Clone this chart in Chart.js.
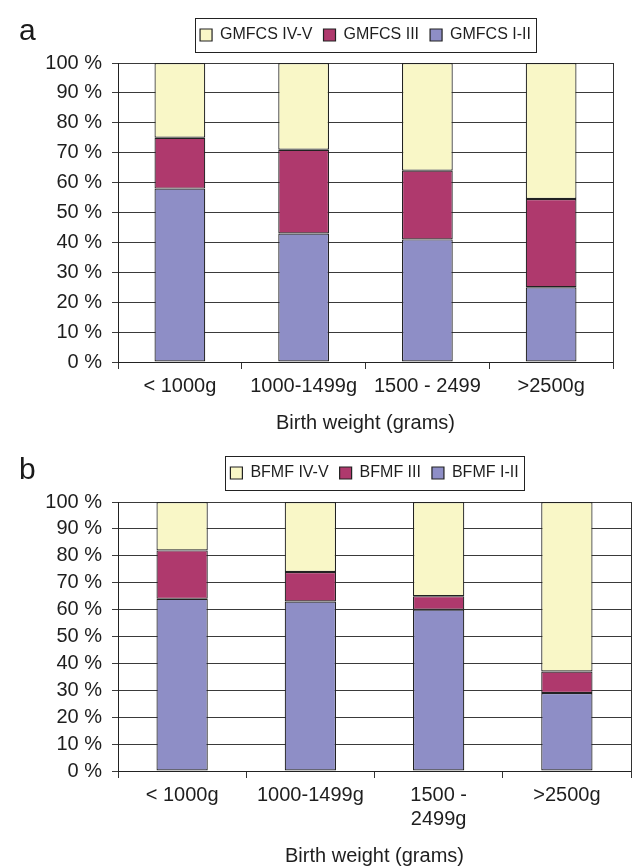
<!DOCTYPE html>
<html>
<head>
<meta charset="utf-8">
<script src="https://cdn.jsdelivr.net/npm/chart.js@4.4.1/dist/chart.umd.min.js"></script>
<style>
  body { margin: 0; background: #fff; }
  .panel { position: absolute; left: 0; width: 632px; }
  .letter { position: absolute; left: 19px; font: 30px "Liberation Sans", Arial, sans-serif; color: #1a1a1a; }
</style>
</head>
<body>
<div class="panel" style="top:0;height:435px"><canvas id="chart-a" width="632" height="435"></canvas></div>
<div class="panel" style="top:435px;height:433px"><canvas id="chart-b" width="632" height="433"></canvas></div>
<div class="letter" style="top:13px">a</div>
<div class="letter" style="top:452px">b</div>
<script>
// Categories (birth weight groups)
const weightsA = ['< 1000g', '1000-1499g', '1500 - 2499', '>2500g'];
const weightsB = ['< 1000g', '1000-1499g', ['1500 -', '2499g'], '>2500g'];

// Panel a: GMFCS levels, % of children in each group
const gmfcsLow = [58, 43, 41, 25];
const gmfcsMid = [17, 28, 23, 29.5];
const gmfcsHigh = [25, 29, 36, 45.5];

// Panel b: BFMF levels
const bfmfLow = [64, 63, 60, 29];
const bfmfMid = [18, 11, 5, 8];
const bfmfHigh = [18, 26, 35, 63];

const blue = '#8E8EC6';
const maroon = '#AF396D';
const cream = '#F9F7C7';
const ink = '#1e1e1e';
const FONT = '"Liberation Sans", Arial, sans-serif';

// Outline round the legend and right edge of the plot
const frames = {
  id: 'frames',
  afterDraw(chart) {
    const ctx = chart.ctx;
    const area = chart.chartArea;
    ctx.save();
    ctx.strokeStyle = '#333';
    ctx.lineWidth = 1;
    ctx.beginPath();
    ctx.moveTo(Math.round(area.right) + 0.5, area.top);
    ctx.lineTo(Math.round(area.right) + 0.5, area.bottom + 7);
    ctx.stroke();
    const boxes = chart.legend.legendHitBoxes;
    if (boxes && boxes.length) {
      const first = boxes[0];
      const last = boxes[boxes.length - 1];
      const x0 = Math.round(first.left - 5) + 0.5;
      const x1 = Math.round(last.left + last.width + 5) + 0.5;
      const y0 = Math.round(first.top - 9) + 0.5;
      const y1 = Math.round(first.top + first.height + 9) + 0.5;
      ctx.strokeStyle = '#222';
      ctx.strokeRect(x0, y0, x1 - x0, y1 - y0);
    }
    ctx.restore();
  }
};

function makeChart(id, labels, low, mid, high, names, opts) {
  const ctx = document.getElementById(id).getContext('2d');
  return new Chart(ctx, {
    type: 'bar',
    data: {
      labels: labels,
      datasets: [
        { label: names[0], data: low, backgroundColor: blue },
        { label: names[1], data: mid, backgroundColor: maroon },
        { label: names[2], data: high, backgroundColor: cream },
      ].map(d => Object.assign(d, {
        borderColor: '#222',
        borderWidth: 1.2,
        borderSkipped: false,
        barPercentage: opts.barPct,
        categoryPercentage: 1,
      })),
    },
    options: {
      responsive: false,
      animation: false,
      layout: { padding: { top: opts.padTop, left: 0, right: opts.padRight, bottom: 0 } },
      plugins: {
        legend: {
          reverse: true,
          fullSize: false,
          labels: {
            color: ink,
            font: { family: FONT, size: 16 },
            boxWidth: 12,
            boxHeight: 12,
            padding: 11,
          },
        },
        // empty subtitle used as a gap under the legend
        subtitle: {
          display: true,
          text: '',
          weight: 500,
          font: { size: 1, lineHeight: 1 },
          padding: { top: 0, bottom: opts.gap },
        },
        tooltip: { enabled: false },
      },
      scales: {
        x: {
          stacked: true,
          afterFit: s => { s.height = opts.xHeight; },
          grid: { drawOnChartArea: false, tickLength: 7, color: '#333' },
          border: { color: '#222' },
          ticks: { color: ink, font: { family: FONT, size: 20 }, padding: 5, maxRotation: 0, autoSkip: false },
          title: { display: true, text: 'Birth weight (grams)', color: ink, font: { family: FONT, size: 20 }, padding: 0 },
        },
        y: {
          stacked: true,
          min: 0,
          max: 100,
          afterFit: s => { s.width = 118; },
          grid: { color: '#3a3a3a', tickLength: 6 },
          border: { color: '#222' },
          ticks: {
            stepSize: 10,
            autoSkip: false,
            color: ink,
            padding: 10,
            font: { family: FONT, size: 20 },
            callback: v => v + ' %',
          },
        },
      },
    },
    plugins: [frames],
  });
}

makeChart('chart-a', weightsA, gmfcsLow, gmfcsMid, gmfcsHigh,
  ['GMFCS I-II', 'GMFCS III', 'GMFCS IV-V'],
  { padTop: 16, padRight: 19, gap: 9, xHeight: 73, barPct: 0.41 });

makeChart('chart-b', weightsB, bfmfLow, bfmfMid, bfmfHigh,
  ['BFMF I-II', 'BFMF III', 'BFMF IV-V'],
  { padTop: 19, padRight: 1, gap: 10, xHeight: 97, barPct: 0.40 });
</script>
</body>
</html>
